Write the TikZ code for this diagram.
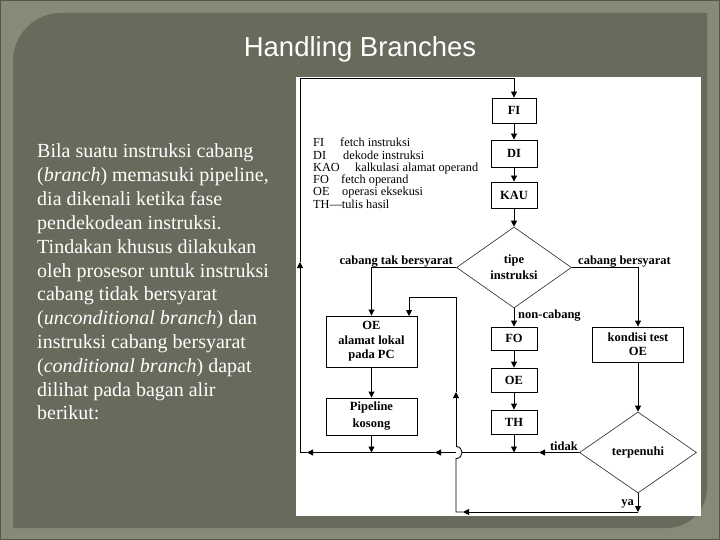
\documentclass[tikz,border=0pt]{standalone}
\usepackage{fontspec}
\setmainfont{Liberation Serif}
\newfontfamily\titlefont{Liberation Sans}
\usetikzlibrary{shapes.geometric,arrows.meta}
\definecolor{outerc}{HTML}{878A77}
\definecolor{panelc}{HTML}{69695C}
\definecolor{edgec}{HTML}{55554A}
\begin{document}
\begin{tikzpicture}[x=1pt,y=-1pt,
  box/.style={draw=black, line width=0.9pt, inner sep=0pt, align=center, font=\fontsize{12.5}{15.5}\selectfont\bfseries, minimum width=46pt},
  dia/.style={draw=black!85, line width=0.6pt, diamond, inner sep=0pt, align=center, font=\fontsize{12.5}{16}\selectfont\bfseries},
  lab/.style={font=\fontsize{12.5}{14}\selectfont\bfseries, inner sep=0pt},
  leg/.style={font=\fontsize{12.3}{13}\selectfont, inner sep=0pt, anchor=base west},
  para/.style={font=\fontsize{20}{24}\selectfont, text=white, inner sep=0pt, anchor=base west},
  ln/.style={line width=0.9pt, draw=black},
  arr/.style={ln, -{Triangle[length=6pt,width=6pt]}},
]
% background
\fill[outerc] (0,0) rectangle (720,540);
\draw[edgec, line width=1pt] (0.5,0.5) rectangle (719.5,539.5);
\useasboundingbox (0,0) rectangle (720,540);
\fill[panelc] (13,528) -- (13,61) .. controls (13,34.5) and (34.5,13) .. (61,13) -- (707,13) -- (707,488) .. controls (707,510) and (689,528) .. (667,528) -- cycle;
\fill[white] (296,77) rectangle (701,516);

% title
\node[font=\titlefont\fontsize{27.5}{30}\selectfont, text=white, anchor=base, inner sep=0pt] (title) at (360,57) {Handling Branches};

% paragraph
\node[para] (p1) at (37,158) {Bila suatu instruksi cabang};
\node[para] (p2) at (37,181.8) {(\textit{branch}) memasuki pipeline,};
\node[para] (p3) at (37,205.6) {dia dikenali ketika fase};
\node[para] (p4) at (37,229.4) {pendekodean instruksi.};
\node[para] (p5) at (37,253.2) {Tindakan khusus dilakukan};
\node[para] (p6) at (37,277) {oleh prosesor untuk instruksi};
\node[para] (p7) at (37,300.8) {cabang tidak bersyarat};
\node[para] (p8) at (37,324.6) {(\textit{unconditional branch}) dan};
\node[para] (p9) at (37,348.4) {instruksi cabang bersyarat};
\node[para] (p10) at (37,372.2) {(\textit{conditional branch}) dapat};
\node[para] (p11) at (37,396) {dilihat pada bagan alir};
\node[para] (p12) at (37,419.8) {berikut:};

% legend
\node[leg] (g1) at (313,147) {FI};
\node[leg] (g1d) at (340,147) {fetch instruksi};
\node[leg] (g2) at (313,159.5) {DI};
\node[leg] (g2d) at (343,159.5) {dekode instruksi};
\node[leg] (g3) at (313,171.5) {KAO};
\node[leg] (g3d) at (355,171.5) {kalkulasi alamat operand};
\node[leg] (g4) at (313,184) {FO};
\node[leg] (g4d) at (341,184) {fetch operand};
\node[leg] (g5) at (313,196) {OE};
\node[leg] (g5d) at (342,196) {operasi eksekusi};
\node[leg] (g6) at (313,208) {TH---tulis hasil};

% flowchart nodes
\node[box, minimum width=44pt, minimum height=25pt] (fi) at (514,110.5) {FI};
\node[box, minimum height=27pt] (di) at (514,153.5) {DI};
\node[box, minimum height=26pt] (kau) at (514,195) {KAU};
\node[dia, minimum width=115pt, minimum height=81pt] (tipe) at (514,267.5) {tipe\\instruksi};
\node[box, minimum height=23pt] (fo) at (514,338.5) {FO};
\node[box, minimum height=24pt] (oe) at (514,380) {OE};
\node[box, minimum height=24pt] (th) at (514,422) {TH};
\node[box, minimum width=91pt, minimum height=51pt, font=\fontsize{12.5}{14.5}\selectfont\bfseries] (oel) at (371.5,341.5) {OE\\alamat lokal\\pada PC};
\node[box, minimum width=91pt, minimum height=37pt, font=\fontsize{12.5}{17}\selectfont\bfseries] (pk) at (371.5,416.5) {Pipeline\\kosong};
\node[box, minimum width=91pt, minimum height=35pt, font=\fontsize{12.5}{14}\selectfont\bfseries] (kt) at (638,344.5) {kondisi test\\OE};
\node[dia, minimum width=117pt, minimum height=81pt] (tp) at (638,452.5) {terpenuhi};

% labels
\node[lab, anchor=base east] (l1) at (453,264) {cabang tak bersyarat};
\node[lab, anchor=base west] (l2) at (578,264) {cabang bersyarat};
\node[lab, anchor=base west] (l3) at (518,318) {non-cabang};
\node[lab, anchor=base east] (l4) at (578,450) {tidak};
\node[lab, anchor=base east] (l5) at (634,505) {ya};

% coordinates
\coordinate (tA) at (539,452.5);
\coordinate (hopR) at (462,452.5);
\coordinate (hopL) at (456,452.5);
\coordinate (aB) at (435,452.5);
\coordinate (j1) at (371.5,452.5);
\coordinate (j2) at (514,452.5);
\coordinate (aC) at (307,452.5);
\coordinate (cBL) at (300,452.5);
\coordinate (aUp) at (300,262);
\coordinate (cTL) at (300,78);
\coordinate (cTR) at (514,78);
\coordinate (yaC) at (638,512);
\coordinate (aY) at (463,512);
\coordinate (cYL) at (456,512);
\coordinate (hopB) at (456,458.5);
\coordinate (hopT) at (456,446.5);
\coordinate (aV) at (456,392);
\coordinate (cV) at (456,297);
\coordinate (cOE) at (409,297);
\coordinate (oelin) at (409,316);

% main flow
\draw[arr] (fi) -- (di);
\draw[arr] (di) -- (kau);
\draw[arr] (kau) -- (tipe);
\draw[arr] (tipe) -- (fo);
\draw[arr] (fo) -- (oe);
\draw[arr] (oe) -- (th);
\draw[arr] (tipe.west) -| (oel.north);
\draw[arr] (tipe.east) -| (kt.north);
\draw[arr] (oel) -- (pk);
\draw[arr] (pk) -- (j1);
\draw[arr] (th) -- (j2);
\draw[arr] (kt) -- (tp);

% tidak path back to FI
\draw[arr] (tp.west) -- (tA);
\draw[ln] (tA) -- (hopR);
\draw[arr] (hopL) -- (aB);
\draw[arr] (aB) -- (aC);
\draw[ln] (aC) -- (cBL);
\draw[arr] (cBL) -- (aUp);
\draw[arr] (aUp) -- (cTL) -- (cTR) -- (fi.north);

% ya path to OE alamat
\draw[arr] (tp.south) -- (yaC);
\draw[arr] (yaC) -- (aY);
\draw[ln] (aY) -- (cYL) -- (hopB) .. controls (464,458.5) and (464,446.5) .. (hopT);
\draw[arr] (hopT) -- (aV);
\draw[arr] (aV) -- (cV) -- (cOE) -- (oelin);
\end{tikzpicture}
\end{document}
